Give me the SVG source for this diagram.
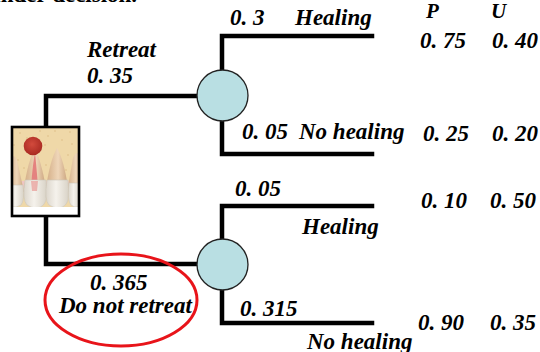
<svg xmlns="http://www.w3.org/2000/svg" width="540" height="352" viewBox="0 0 540 352">
  <style>
    .t { font-family: "Liberation Serif", "Times New Roman", serif; font-weight: bold; font-style: italic; font-size: 23px; fill: #000; }
    .col { font-size: 21px; }
    .head { font-family: "Liberation Serif", "Times New Roman", serif; font-weight: bold; font-size: 23px; fill: #000; }
    .edge { fill: none; stroke: #000; stroke-width: 4.5; stroke-linejoin: miter; stroke-linecap: square; }
    .chance { fill: #b9dfe3; stroke: #222; stroke-width: 1.3; }
    .root { fill: url(#root); }
    .crown { fill: url(#crown); stroke: #cfc8bb; stroke-width: 0.6; }
  </style>
  <defs>
    <radialGradient id="lesion" cx="0.45" cy="0.4" r="0.6">
      <stop offset="0" stop-color="#d24a3c"/>
      <stop offset="1" stop-color="#a92a22"/>
    </radialGradient>
    <linearGradient id="root" x1="0" y1="0" x2="1" y2="0">
      <stop offset="0" stop-color="#d3ad85"/>
      <stop offset="0.55" stop-color="#efd6b9"/>
      <stop offset="1" stop-color="#c9a27b"/>
    </linearGradient>
    <linearGradient id="crown" x1="0" y1="0" x2="1" y2="0">
      <stop offset="0" stop-color="#dcd6cb"/>
      <stop offset="0.45" stop-color="#f5f2ec"/>
      <stop offset="1" stop-color="#d9d3c7"/>
    </linearGradient>
    <clipPath id="boxClip"><rect x="12" y="127" width="67" height="89"/></clipPath>
  </defs>

  <!-- heading line running off the top edge -->
  <text class="head" x="-12" y="2">under decision.</text>

  <!-- connectors -->
  <g id="connectors">
    <path class="edge" d="M46,127 V96 H197"/>
    <path class="edge" d="M46,216 V264 H197"/>
    <path class="edge" d="M222,70 V36 H372"/>
    <path class="edge" d="M222,121 V154 H372"/>
    <path class="edge" d="M222,239 V206 H372"/>
    <path class="edge" d="M222,290 V323 H372"/>
  </g>

  <!-- decision node: tooth picture -->
  <g id="decision">
    <g clip-path="url(#boxClip)">
      <rect x="12" y="127" width="67" height="89" fill="#efd8a8"/>
      <g fill="#dcbd85" opacity="0.55">
        <circle cx="20" cy="133" r="1"/><circle cx="48" cy="136" r="1"/><circle cx="62" cy="140" r="1"/>
        <circle cx="70" cy="132" r="1"/><circle cx="55" cy="131" r="1"/><circle cx="18" cy="160" r="1"/>
        <circle cx="72" cy="144" r="1"/><circle cx="27" cy="138" r="1"/><circle cx="66" cy="170" r="1"/>
        <circle cx="40" cy="131" r="1"/><circle cx="46" cy="165" r="1"/><circle cx="14" cy="145" r="1"/>
        <circle cx="45" cy="145" r="1"/><circle cx="24" cy="168" r="1"/><circle cx="68" cy="155" r="1"/>
      </g>
      <!-- gum line -->
      <rect x="12" y="181" width="67" height="7" fill="#efc6c2"/>
      <!-- roots -->
      <path class="root" d="M8,192 L10,163 Q13,151 17,160 L24,192 Z"/>
      <path class="root" d="M24,188 Q28,160 35,149 Q41,160 46,188 Z"/>
      <path d="M31,186 Q33,162 35,153 Q36,162 38,186 Z" fill="#e4827f"/>
      <path class="root" d="M46,188 Q50,160 57,148 Q64,160 68,188 Z"/>
      <path class="root" d="M67,192 L73,158 Q77,149 80,156 L83,192 Z"/>
      <!-- crowns -->
      <path class="crown" d="M9,185 L23,185 Q25,200 21,205 Q17,208 10,207 Z"/>
      <path class="crown" d="M25,180 Q22,200 27,205 Q31,208 37,208 Q44,207 46,200 Q47,190 46,180 Z"/>
      <path d="M31,181 L38,181 L37,191 L32,191 Z" fill="#e89a96" opacity="0.7"/>
      <path class="crown" d="M47,180 Q44,200 49,205 Q53,208 59,208 Q66,207 68,200 Q69,190 68,180 Z"/>
      <path class="crown" d="M69,183 Q67,201 71,205 Q74,208 80,207 L80,183 Z"/>
      <rect x="12" y="207" width="67" height="9" fill="#ffffff"/>
      <circle cx="33" cy="146" r="9.3" fill="url(#lesion)"/>
    </g>
    <rect x="12" y="127" width="67" height="89" fill="none" stroke="#000" stroke-width="2.6"/>
  </g>

  <!-- chance nodes -->
  <g id="chance-retreat"><circle class="chance" cx="222.5" cy="95.5" r="25.5"/></g>
  <g id="chance-no-retreat"><circle class="chance" cx="222.5" cy="264.5" r="25.5"/></g>

  <!-- branch labels -->
  <g id="labels">
    <text class="t" x="87" y="57">Retreat</text>
    <text class="t" x="87" y="83">0. 35</text>
    <text class="t" x="230" y="25">0. 3</text>
    <text class="t" x="295" y="25">Healing</text>
    <text class="t" x="242" y="139">0. 05</text>
    <text class="t" x="299" y="139">No healing</text>
    <text class="t" x="235" y="196">0. 05</text>
    <text class="t" x="302" y="234">Healing</text>
    <text class="t" x="240" y="316">0. 315</text>
    <text class="t" x="307" y="349">No healing</text>
    <text class="t" x="90" y="290">0. 365</text>
    <text class="t" x="59" y="313">Do not retreat</text>
  </g>

  <!-- outcome table -->
  <g id="outcomes">
    <text class="t col" x="426" y="18">P</text>
    <text class="t col" x="491" y="18">U</text>
    <text class="t" x="420" y="48">0. 75</text>
    <text class="t" x="492" y="48">0. 40</text>
    <text class="t" x="423" y="141">0. 25</text>
    <text class="t" x="492" y="141">0. 20</text>
    <text class="t" x="421" y="208">0. 10</text>
    <text class="t" x="490" y="208">0. 50</text>
    <text class="t" x="418" y="330">0. 90</text>
    <text class="t" x="490" y="330">0. 35</text>
  </g>

  <!-- highlight -->
  <g id="highlight">
    <ellipse cx="121" cy="300" rx="76" ry="46" fill="none" stroke="#e8141a" stroke-width="3"/>
  </g>
</svg>
